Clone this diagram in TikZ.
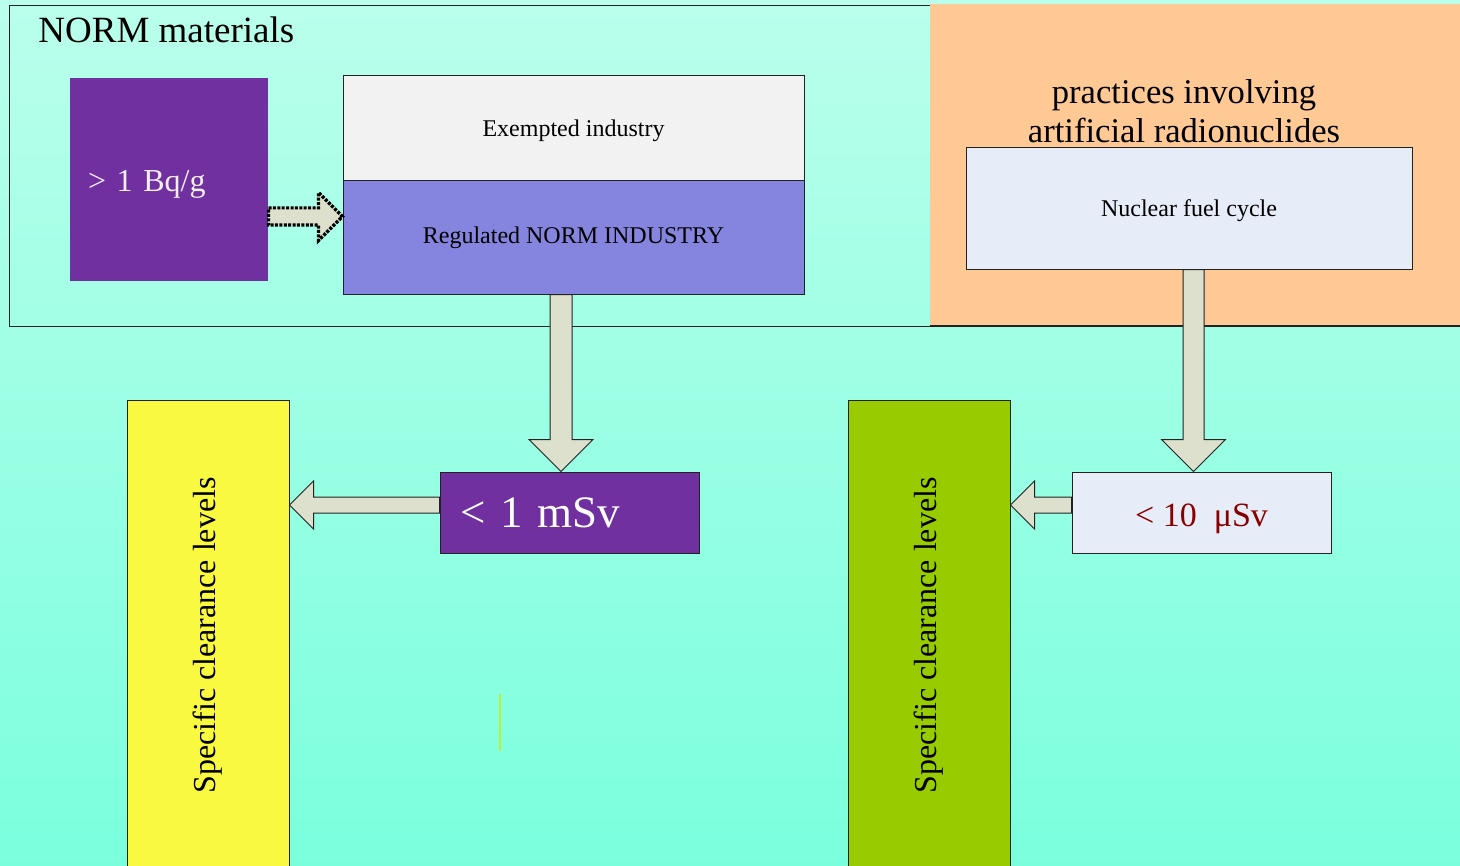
\documentclass[tikz,border=0pt]{standalone}
\usepackage{fontspec}
\setmainfont{Liberation Serif}
\usetikzlibrary{calc}
\definecolor{bgtop}{HTML}{BAFFEB}
\definecolor{bgbottom}{HTML}{7AFFDD}
\definecolor{normpurple}{HTML}{7030A0}
\definecolor{regblue}{HTML}{8585E0}
\definecolor{exgrey}{HTML}{F2F2F2}
\definecolor{nucblue}{HTML}{E6ECF8}
\definecolor{artorange}{HTML}{FFC996}
\definecolor{clryellow}{HTML}{F9F942}
\definecolor{clrgreen}{HTML}{99CC00}
\definecolor{arrfill}{HTML}{DDE0CC}
\definecolor{dosered}{HTML}{880000}
\definecolor{edge}{HTML}{222222}
\definecolor{stray}{HTML}{BEF032}

% block arrow: [style]{start}{tip}{half shaft}{half head}
\newcommand{\blockarrow}[5][]{%
  \path (#2) coordinate (ba-s) (#3) coordinate (ba-t)
        ($(ba-t)!#5!(ba-s)$) coordinate (ba-c);
  \draw[blk, #1] ($(ba-s)!#4!90:(ba-t)$) -- ($(ba-c)!#4!90:(ba-t)$)
      -- ($(ba-c)!#5!90:(ba-t)$) -- (ba-t) -- ($(ba-c)!#5!-90:(ba-t)$)
      -- ($(ba-c)!#4!-90:(ba-t)$) -- ($(ba-s)!#4!-90:(ba-t)$) -- cycle;}

\begin{document}
\begin{tikzpicture}[
    x=0.5pt, y=-0.5pt,
    box/.style={draw=edge, line width=0.5pt, inner sep=0pt, align=center,
                font=\fontsize{12}{14}\selectfont},
    dose/.style={box, minimum width=129.5pt, minimum height=40.5pt},
    clear/.style={box, rotate=90, minimum width=235.5pt, minimum height=81pt,
                  font=\fontsize{16}{19}\selectfont},
    low/.style={text height=11pt, text depth=2.6pt},
    blk/.style={fill=arrfill, draw=edge, line width=0.5pt, line join=miter},
    dots/.style={draw=black, line width=1.6pt, dash pattern=on 1.5pt off 0.7pt},
  ]
    \useasboundingbox (0,0) rectangle (1460,866);
    \clip (0,0) rectangle (1460,866);
    % --- background and the two areas ------------------------------------
    \shade[top color=bgtop, bottom color=bgbottom] (0,0) rectangle (1460,866);
    \draw[edge, line width=0.5pt] (9,6) rectangle (1470,326);
    \fill[artorange] (930,4) rectangle (1470,325);
    \draw[edge, line width=0.8pt] (930,326) -- (1470,326);
    \node[anchor=base west, inner sep=0pt, font=\fontsize{18.5}{22}\selectfont]
         (normtitle) at (38,43) {NORM materials};
    \node[inner sep=0pt, align=center, font=\fontsize{17.3}{19.5}\selectfont]
         (arttitle) at (1184,111) {practices involving\\artificial radionuclides};
    % --- NORM side --------------------------------------------------------
    \node[box, draw=none, fill=normpurple, text=white!92!normpurple,
          text width=81pt, inner xsep=9pt, minimum height=101.5pt, align=left,
          text height=15.7pt, text depth=3.5pt, font=\fontsize{16}{19}\selectfont]
         (bq)  at (169,179.5)   {> 1 Bq/g};
    \node[box, low, fill=exgrey, minimum width=230.5pt, minimum height=52.5pt]
         (exm) at (573.5,128.5) {Exempted industry};
    \node[box, fill=regblue, minimum width=230.5pt, minimum height=56.5pt]
         (reg) at (573.5,237.5) {Regulated NORM INDUSTRY};
    \node[dose, fill=normpurple, text=white, text width=109.5pt, inner xsep=10pt,
          align=left, font=\fontsize{22.5}{26}\selectfont]
         (msv) at (569.5,512.5) {< 1 mSv};
    \node[clear, fill=clryellow] (yel) at (208,635.5) {Specific clearance levels};
    % --- artificial side --------------------------------------------------
    \node[box, low, fill=nucblue, minimum width=223pt, minimum height=60.5pt]
         (nuc) at (1189,208.5)  {Nuclear fuel cycle};
    \node[dose, fill=nucblue, text=dosered, text height=18pt, text depth=3.7pt,
          font=\fontsize{17}{20}\selectfont]
         (usv) at (1201.5,512.5) {< 10\ \ μSv};
    \node[clear, fill=clrgreen] (grn) at (929,635.5) {Specific clearance levels};
    % --- arrows -----------------------------------------------------------
    \coordinate (dn1) at (561,0);
    \coordinate (dn2) at (1193.5,0);
    \coordinate (lf)  at (0,505);
    \coordinate (dt)  at (0,216.5);
    \blockarrow[dots]{dt -| bq.east}{dt -| reg.west}{4.3pt}{12pt}
    \blockarrow{dn1 |- reg.south}{dn1 |- msv.north}{5.5pt}{16pt}
    \blockarrow{msv.west |- lf}{yel.south |- lf}{4pt}{12pt}
    \blockarrow{dn2 |- nuc.south}{dn2 |- usv.north}{5.25pt}{16pt}
    \blockarrow{usv.west |- lf}{grn.south |- lf}{4pt}{12pt}
    \draw[stray, line width=0.6pt] (500,694) -- (500,751);
\end{tikzpicture}
\end{document}
